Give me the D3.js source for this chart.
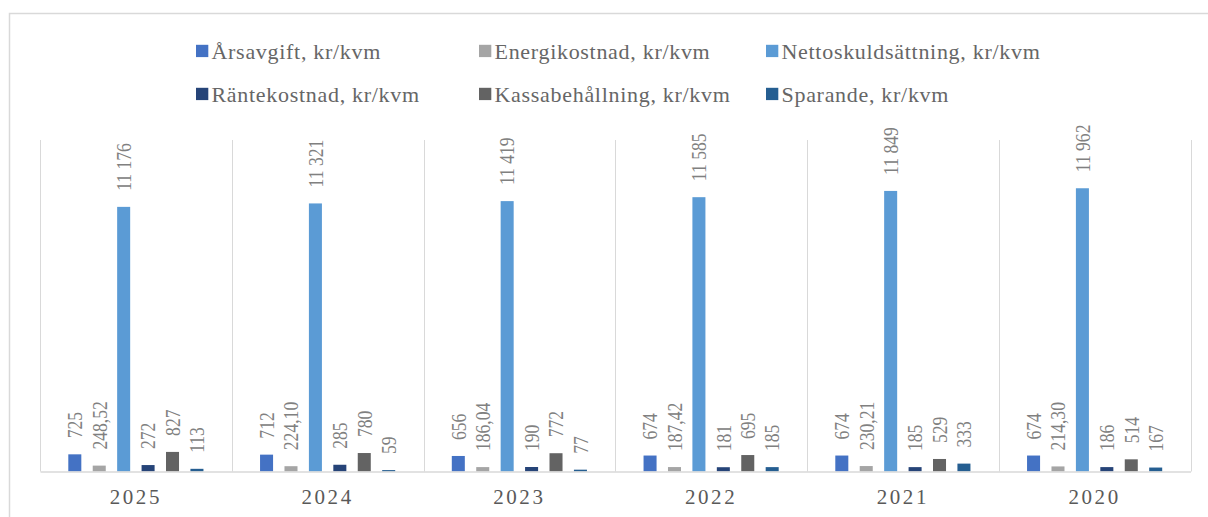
<!DOCTYPE html>
<html>
<head>
<meta charset="utf-8">
<script src="https://cdn.jsdelivr.net/npm/d3@7"></script>
<style>
  html, body { margin: 0; padding: 0; background: #fff; }
  svg { display: block; }
  text { font-family: "Liberation Serif", "Times New Roman", serif; }
</style>
</head>
<body>
<svg id="chart" width="1208" height="517"></svg>
<script>
const categories = ["2025", "2024", "2023", "2022", "2021", "2020"];
const seriesNames = [
  "Årsavgift, kr/kvm",
  "Energikostnad, kr/kvm",
  "Nettoskuldsättning, kr/kvm",
  "Räntekostnad, kr/kvm",
  "Kassabehållning, kr/kvm",
  "Sparande, kr/kvm"
];
const seriesColors = ["#4472C4", "#A5A5A5", "#5B9BD5", "#264478", "#636363", "#255E91"];
const arsavgift = [725, 712, 656, 674, 674, 674];
const energikostnad = [248.52, 224.10, 186.04, 187.42, 230.21, 214.30];
const nettoskuld = [11176, 11321, 11419, 11585, 11849, 11962];
const rantekostnad = [272, 285, 190, 181, 185, 186];
const kassa = [827, 780, 772, 695, 529, 514];
const sparande = [113, 59, 77, 185, 333, 167];
const seriesValues = [arsavgift, energikostnad, nettoskuld, rantekostnad, kassa, sparande];
const seriesDecimals = [0, 2, 0, 0, 0, 0];
const yMax = 14000;

const locale = d3.formatLocale({ decimal: ",", thousands: " ", grouping: [3], currency: ["", " kr"] });
const fmt0 = locale.format(",.0f");
const fmt2 = locale.format(",.2f");

const serif = "\"Liberation Serif\", \"Times New Roman\", serif";
const svg = d3.select("#chart");

// outer chart border (extends past the right/bottom edges)
svg.append("rect")
  .attr("x", 9.5).attr("y", 13.5)
  .attr("width", 1400).attr("height", 700)
  .attr("fill", "none").attr("stroke", "#d9d9d9").attr("stroke-width", 1.5);

const plot = { left: 40, right: 1190.5, top: 140, bottom: 471.5 };

const x0 = d3.scaleBand().domain(categories).range([plot.left, plot.right]).padding(0);
const outerPad = 28.3;
const x1 = d3.scaleBand().domain(d3.range(seriesNames.length))
  .range([outerPad, x0.bandwidth() - outerPad]).paddingInner(0.467).paddingOuter(0);
const y = d3.scaleLinear().domain([0, yMax]).range([plot.bottom, plot.top]);

// vertical category gridlines
const bounds = categories.map(c => x0(c)).concat([plot.right]);
svg.append("g").selectAll("line").data(bounds).join("line")
  .attr("x1", d => Math.round(d) + 0.5).attr("x2", d => Math.round(d) + 0.5)
  .attr("y1", plot.top).attr("y2", plot.bottom)
  .attr("stroke", "#d9d9d9").attr("stroke-width", 1);

// bars
const barData = [];
categories.forEach((c, ci) => {
  seriesValues.forEach((vals, si) => {
    barData.push({ cat: c, s: si, v: vals[ci] });
  });
});

svg.append("g").selectAll("rect").data(barData).join("rect")
  .attr("x", d => x0(d.cat) + x1(d.s))
  .attr("y", d => y(d.v))
  .attr("width", x1.bandwidth())
  .attr("height", d => y(0) - y(d.v))
  .attr("fill", d => seriesColors[d.s]);

// category axis
const xAxis = d3.axisBottom(x0).tickSize(0).tickPadding(0);
const gx = svg.append("g").attr("transform", `translate(0,${plot.bottom})`).call(xAxis);
gx.attr("font-family", null).attr("font-size", null);
gx.select(".domain").attr("stroke", "#d9d9d9").attr("stroke-width", 1.5);
gx.selectAll(".tick text")
  .attr("y", 32.5).attr("dy", null)
  .attr("fill", "#595959")
  .style("font-family", serif)
  .style("font-size", "21px")
  .style("letter-spacing", "2.6px");

// data labels
svg.append("g").selectAll("text").data(barData).join("text")
  .attr("transform", d => {
    const cx = x0(d.cat) + x1(d.s) + x1.bandwidth() / 2;
    return `translate(${cx},${y(d.v) - 16}) rotate(-90) scale(0.8,1)`;
  })
  .attr("dy", "0.33em")
  .attr("text-anchor", "start")
  .attr("fill", "#808080")
  .style("font-family", serif)
  .style("font-size", "22px")
  .text(d => seriesDecimals[d.s] === 2 ? fmt2(d.v) : fmt0(d.v));

// legend
const legendX = [196, 479, 766];
const legendY = [51, 94];
const lg = svg.append("g").selectAll("g").data(seriesNames).join("g")
  .attr("transform", (d, i) => `translate(${legendX[i % 3]},${legendY[Math.floor(i / 3)]})`);
lg.append("rect")
  .attr("x", 0).attr("y", -6.2).attr("width", 12.3).attr("height", 12.3)
  .attr("fill", (d, i) => seriesColors[i]);
lg.append("text")
  .attr("x", 15.5).attr("y", 7.6)
  .attr("fill", "#666666")
  .style("font-family", serif)
  .style("font-size", "22px")
  .style("letter-spacing", "0.7px")
  .text(d => d);
</script>
</body>
</html>
